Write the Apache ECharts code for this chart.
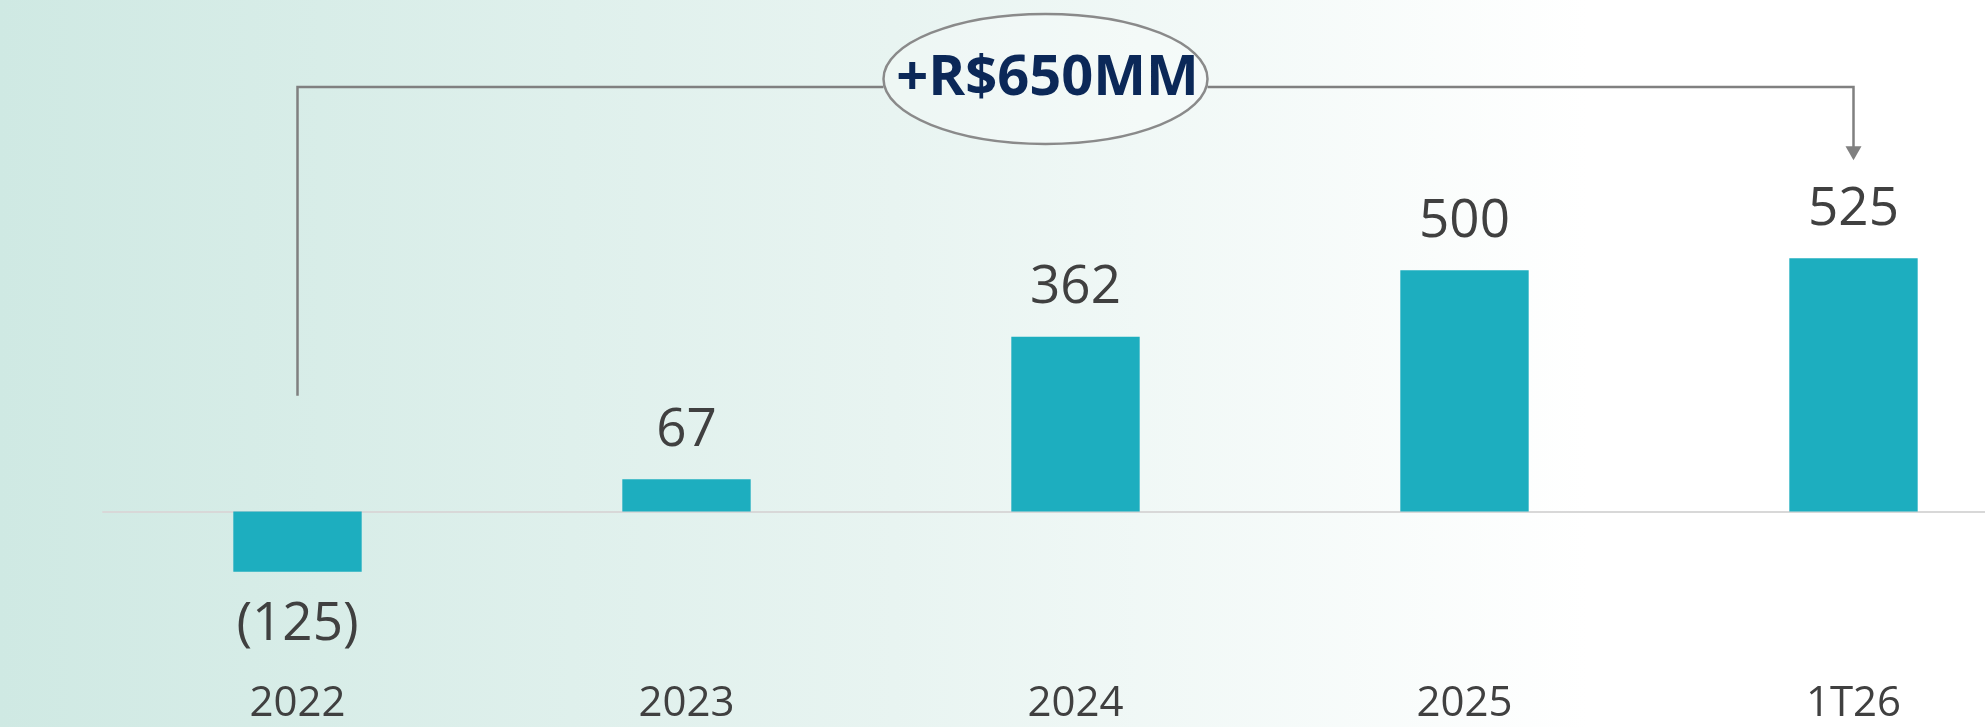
<!DOCTYPE html>
<html>
<head>
<meta charset="utf-8">
<script src="https://cdn.jsdelivr.net/npm/echarts@6/dist/echarts.min.js"></script>
<style>
  html, body { margin: 0; padding: 0; }
  #main { width: 1985px; height: 727px; }
</style>
</head>
<body>
<div id="main"></div>
<script>
// dados do gráfico
var categories = ['2022', '2023', '2024', '2025', '1T26'];
var values = [-125, 67, 362, 500, 525];

// anotação (colchete com seta)
var bracketFrom = '2022';
var bracketTo = '1T26';
var bracketStart = 240;   // base da linha vertical esquerda
var bracketLevel = 880;   // altura da linha horizontal
var arrowTip = 728;       // ponta da seta
var bracketText = '+R$650MM';

var barColor = '#1daebf';
var textColor = '#404040';

var myChart = echarts.init(document.getElementById('main'));

var barData = values.map(function (v) {
  return {
    value: v,
    label: v < 0 ? { position: 'bottom', distance: 27 } : { position: 'top' }
  };
});

myChart.setOption({
  animation: false,
  backgroundColor: {
    type: 'linear', x: 0, y: 0, x2: 1, y2: 0,
    colorStops: [
      { offset: 0, color: '#cfe9e3' },
      { offset: 0.45, color: '#e8f4f1' },
      { offset: 0.8, color: '#ffffff' },
      { offset: 1, color: '#ffffff' }
    ]
  },
  grid: { left: 103, top: 222, width: 1945, height: 386, containLabel: false, outerBoundsMode: 'none' },
  xAxis: [{
    type: 'category',
    data: categories,
    position: 'bottom',
    axisLine: { onZero: true, lineStyle: { color: '#d8d8d8', width: 2 } },
    axisTick: { show: false },
    axisLabel: { show: false }
  }, {
    type: 'category',
    data: categories,
    position: 'bottom',
    axisLine: { show: false },
    axisTick: { show: false },
    axisLabel: {
      margin: 75,
      color: textColor,
      fontFamily: 'Open Sans',
      fontSize: 42
    }
  }],
  yAxis: {
    type: 'value',
    min: -200,
    max: 600,
    show: false,
    splitLine: { show: false }
  },
  series: [{
    type: 'bar',
    xAxisIndex: 0,
    data: barData,
    barWidth: '33%',
    itemStyle: { color: barColor },
    label: {
      show: true,
      distance: 22,
      color: textColor,
      fontFamily: 'Open Sans',
      fontSize: 53,
      formatter: function (p) {
        return p.value < 0 ? '(' + Math.abs(p.value) + ')' : String(p.value);
      }
    }
  }]
});

// desenha o colchete usando as escalas do gráfico
var pA = myChart.convertToPixel({ xAxisIndex: 0, yAxisIndex: 0 }, [bracketFrom, bracketStart]);
var pB = myChart.convertToPixel({ xAxisIndex: 0, yAxisIndex: 0 }, [bracketFrom, bracketLevel]);
var pC = myChart.convertToPixel({ xAxisIndex: 0, yAxisIndex: 0 }, [bracketTo, bracketLevel]);
var pD = myChart.convertToPixel({ xAxisIndex: 0, yAxisIndex: 0 }, [bracketTo, arrowTip]);
var pMid = myChart.convertToPixel({ xAxisIndex: 0, yAxisIndex: 0 }, ['2024', bracketLevel]);

var ex = pMid[0] - 30, ey = pB[1] - 8, rx = 162, ry = 65;
var lineStyle = { stroke: '#808080', lineWidth: 2.5, fill: null };

myChart.setOption({
  graphic: [
    { type: 'polyline', shape: { points: [pA, pB, [ex - rx, pB[1]]] }, style: lineStyle },
    { type: 'polyline', shape: { points: [[ex + rx, pC[1]], pC, [pD[0], pD[1] - 12]] }, style: lineStyle },
    { type: 'polygon', shape: { points: [[pD[0], pD[1]], [pD[0] - 8, pD[1] - 14], [pD[0] + 8, pD[1] - 14]] },
      style: { fill: '#808080' } },
    { type: 'ellipse', shape: { cx: ex, cy: ey, rx: rx, ry: ry },
      style: { fill: 'rgba(255,255,255,0.25)', stroke: '#8a8a8a', lineWidth: 2.5 } },
    { type: 'text', x: ex + 2, y: ey,
      style: { text: bracketText, fill: '#0b2858', font: 'bold 56px "Open Sans"',
               align: 'center', verticalAlign: 'middle' } }
  ]
});
</script>
</body>
</html>
